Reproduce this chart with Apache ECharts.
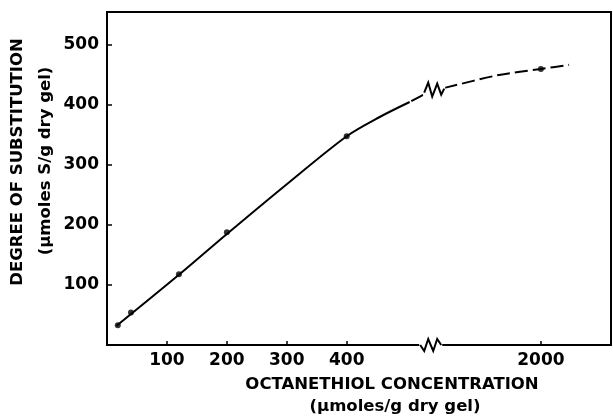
<!DOCTYPE html>
<html>
<head>
<meta charset="utf-8">
<script src="https://cdn.jsdelivr.net/npm/echarts@6/dist/echarts.min.js"></script>
<style>
  html, body { margin: 0; padding: 0; background: #fff; }
  #main { width: 613px; height: 417px; }
</style>
</head>
<body>
<div id="main"></div>
<script>
// measured points (octanethiol conc., degree of substitution)
const pointsX = [18, 40, 120, 200, 400, 2000];
const pointsY = [33, 54, 118, 188, 348, 460];
// drawn curve, solid part
const solidX = [16, 120, 200, 300, 400, 455, 505];
const solidY = [32, 117, 185, 268, 348, 380, 405];
// drawn curve, dashed part (crosses the break)
const dashX = [505, 541, 1817, 1841, 1930, 2000, 2047];
const dashY = [405, 424, 423, 429, 450, 460, 467];
const xTicks = [100, 200, 300, 400, 2000];
const yTicks = [100, 200, 300, 400, 500];
const breakStart = 541;
const breakEnd = 1817;

const FONT = "DejaVu Sans";
const zip = (a, b) => a.map((v, i) => [v, b[i]]);

const chart = echarts.init(document.getElementById("main"));

const option = {
  animation: false,
  grid: {
    left: 107,
    right: 2,
    top: 12,
    bottom: 72,
    show: true,
    borderColor: "#000",
    borderWidth: 2,
  },
  xAxis: {
    type: "value",
    min: 0,
    max: 2117,
    breaks: [{ start: breakStart, end: breakEnd, gap: 0 }],
    breakArea: { show: false },
    axisLine: { show: true, onZero: false, lineStyle: { color: "#000", width: 2 } },
    axisTick: { show: true, inside: true, length: 4, customValues: xTicks, lineStyle: { color: "#000", width: 1.5 } },
    axisLabel: {
      customValues: xTicks,
      formatter: (v) => String(v),
      margin: 7,
      color: "#000",
      fontFamily: FONT,
      fontWeight: "bold",
      fontSize: 17,
    },
    splitLine: { show: false },
  },
  yAxis: {
    type: "value",
    min: 0,
    max: 555,
    axisLine: { show: true, lineStyle: { color: "#000", width: 2 } },
    axisTick: { show: true, inside: true, length: 5, customValues: yTicks, lineStyle: { color: "#000", width: 1.5 } },
    axisLabel: {
      customValues: yTicks,
      formatter: (v) => String(v),
      margin: 8,
      color: "#000",
      fontFamily: FONT,
      fontWeight: "bold",
      fontSize: 17,
    },
    splitLine: { show: false },
  },
  series: [
    {
      type: "line",
      data: zip(solidX, solidY),
      smooth: 0.3,
      showSymbol: false,
      lineStyle: { color: "#000", width: 2 },
      z: 2,
    },
    {
      type: "line",
      data: zip(dashX, dashY),
      smooth: 0.3,
      showSymbol: false,
      lineStyle: { color: "#000", width: 2, type: [13, 5], dashOffset: 16 },
      z: 2,
    },
    {
      type: "scatter",
      data: zip(pointsX, pointsY),
      symbolSize: 6,
      itemStyle: { color: "#000" },
      z: 5,
    },
  ],
};

chart.setOption(option);

// axis titles as text + break zigzags
function drawExtras() {
  const ax = chart.convertToPixel({ xAxisIndex: 0, yAxisIndex: 0 }, [breakStart, 0]);
  const cv = chart.convertToPixel({ xAxisIndex: 0, yAxisIndex: 0 }, [breakStart, 424]);
  const axZig = [[-11, 0], [-7, 6], [-3, -6], [2, 6], [6, -6], [10, 0]];
  const cvZig = [[-7, 2], [-3, -8], [1, 6], [6, -7], [10, 4], [13, -2]];
  const txt = { fill: "#000", fontFamily: FONT, fontWeight: "bold", fontSize: 16.5, textAlign: "center", textVerticalAlign: "middle" };
  chart.setOption({
    graphic: [
      { type: "rect", shape: { x: ax[0] - 12, y: ax[1] - 3, width: 23, height: 6 }, style: { fill: "#fff" }, z: 100 },
      { type: "polyline", shape: { points: axZig.map(p => [ax[0] + p[0], ax[1] + p[1]]) }, style: { stroke: "#000", lineWidth: 2, fill: null }, z: 101 },
      { type: "rect", shape: { x: cv[0] - 8, y: cv[1] - 9, width: 22, height: 17 }, style: { fill: "#fff" }, z: 100 },
      { type: "polyline", shape: { points: cvZig.map(p => [cv[0] + p[0], cv[1] + p[1]]) }, style: { stroke: "#000", lineWidth: 2, fill: null }, z: 101 },
      { type: "text", x: 392, y: 385, style: Object.assign({ text: "OCTANETHIOL CONCENTRATION" }, txt) },
      { type: "text", x: 395, y: 407, style: Object.assign({ text: "(μmoles/g dry gel)" }, txt) },
      { type: "text", x: 18, y: 162, rotation: Math.PI / 2, style: Object.assign({ text: "DEGREE OF SUBSTITUTION" }, txt) },
      { type: "text", x: 46, y: 161, rotation: Math.PI / 2, style: Object.assign({ text: "(μmoles S/g dry gel)" }, txt) },
    ],
  });
}
drawExtras();
</script>
</body>
</html>
